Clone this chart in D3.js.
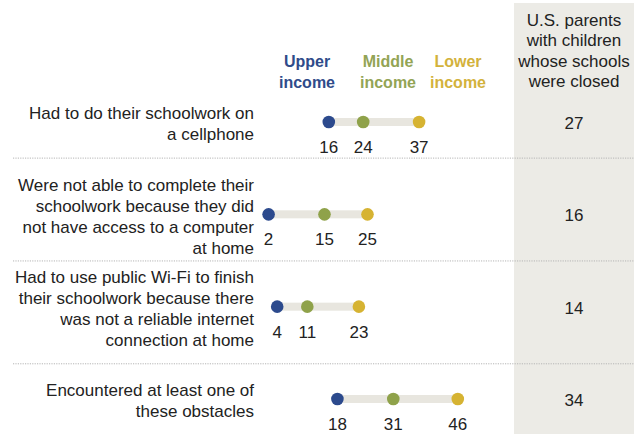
<!DOCTYPE html>
<html>
<head>
<meta charset="utf-8">
<script src="https://cdn.jsdelivr.net/npm/d3@7"></script>
<style>
  html, body { margin: 0; padding: 0; background: #ffffff; }
  svg { display: block; }
</style>
</head>
<body>
<svg id="chart" width="638" height="434"></svg>
<script>
// Obstacles to schoolwork, by family income (%)
const categories = [
  ["Had to do their schoolwork on", "a cellphone"],
  ["Were not able to complete their", "schoolwork because they did", "not have access to a computer", "at home"],
  ["Had to use public Wi-Fi to finish", "their schoolwork because there", "was not a reliable internet", "connection at home"],
  ["Encountered at least one of", "these obstacles"]
];
const upperIncome  = [16, 2, 4, 18];
const middleIncome = [24, 15, 11, 31];
const lowerIncome  = [37, 25, 23, 46];
const allParents   = [27, 16, 14, 34];

const seriesNames = [["Upper", "income"], ["Middle", "income"], ["Lower", "income"]];
const panelTitle = ["U.S. parents", "with children", "whose schools", "were closed"];

const colors = ["#2c4a8d", "#8fa24a", "#d6b332"];
const legendColors = ["#2f4b8a", "#93a455", "#d3b23c"];
const font = "'Liberation Sans', Arial, sans-serif";
const textSize = 17;

const svg = d3.select("#chart");
const W = 638, H = 434;

const x = d3.scaleLinear().domain([0, 50]).range([260, 475]);
const y = d3.scalePoint().domain(d3.range(categories.length)).range([122, 399]);

// shaded column for all parents
const panel = { x0: 514, x1: 634, top: 3 };
svg.append("rect")
  .attr("x", panel.x0).attr("y", panel.top)
  .attr("width", panel.x1 - panel.x0).attr("height", H - panel.top)
  .attr("fill", "#ecebe6");

// row labels, right aligned
const lineH = 21;
const labels = svg.append("g").selectAll("text")
  .data(categories)
  .join("text")
  .attr("text-anchor", "end")
  .attr("font-family", font)
  .attr("font-size", textSize)
  .attr("fill", "#222");
labels.each(function (lines, i) {
  const cy = y(i) + 2 - (lines.length - 1) * lineH / 2;
  d3.select(this).selectAll("tspan")
    .data(lines)
    .join("tspan")
    .attr("x", 254)
    .attr("y", (d, j) => cy + j * lineH)
    .attr("dy", "0.35em")
    .text(d => d);
});

// dotted separators between rows, midway between label blocks
const boxes = labels.nodes().map(n => n.getBBox());
const seps = d3.range(boxes.length - 1).map(i =>
  ((boxes[i].y + boxes[i].height) + boxes[i + 1].y) / 2 - 2);
svg.append("g").selectAll("line")
  .data(seps)
  .join("line")
  .attr("x1", 13).attr("x2", panel.x1)
  .attr("y1", d => d).attr("y2", d => d)
  .attr("stroke", "#b5b5b5")
  .attr("stroke-width", 1)
  .attr("stroke-dasharray", "1.2,1.2");

// legend headers
const legendX = [307, 388, 458];
svg.append("g").selectAll("text")
  .data(seriesNames)
  .join("text")
  .attr("text-anchor", "middle")
  .attr("font-family", font)
  .attr("font-weight", "bold")
  .attr("font-size", 16)
  .attr("fill", (d, i) => legendColors[i])
  .each(function (lines, i) {
    d3.select(this).selectAll("tspan")
      .data(lines)
      .join("tspan")
      .attr("x", legendX[i])
      .attr("y", (d, j) => 61 + j * 21)
      .attr("dy", "0.35em")
      .text(d => d);
  });

// panel header
svg.append("text")
  .attr("text-anchor", "middle")
  .attr("font-family", font)
  .attr("font-size", textSize)
  .attr("fill", "#222")
  .selectAll("tspan")
  .data(panelTitle)
  .join("tspan")
  .attr("x", (panel.x0 + panel.x1) / 2)
  .attr("y", (d, j) => 20 + j * 20.4)
  .attr("dy", "0.35em")
  .text(d => d);

// dumbbell rows
const rows = categories.map((c, i) => ({
  i,
  vals: [upperIncome[i], middleIncome[i], lowerIncome[i]],
  all: allParents[i]
}));

const g = svg.append("g").selectAll("g")
  .data(rows)
  .join("g");

g.append("rect")
  .attr("x", d => x(d3.min(d.vals)))
  .attr("y", d => y(d.i) - 4)
  .attr("width", d => x(d3.max(d.vals)) - x(d3.min(d.vals)))
  .attr("height", 8)
  .attr("fill", "#e8e6df");

g.selectAll("circle")
  .data(d => d.vals.map((v, k) => ({ v, k, row: d.i })))
  .join("circle")
  .attr("cx", d => x(d.v))
  .attr("cy", d => y(d.row))
  .attr("r", 6.3)
  .attr("fill", d => colors[d.k]);

g.selectAll("text.val")
  .data(d => d.vals.map((v, k) => ({ v, k, row: d.i })))
  .join("text")
  .attr("class", "val")
  .attr("x", d => x(d.v))
  .attr("y", d => y(d.row) + 25)
  .attr("dy", "0.35em")
  .attr("text-anchor", "middle")
  .attr("font-family", font)
  .attr("font-size", textSize)
  .attr("fill", "#222")
  .text(d => d.v);

g.append("text")
  .attr("x", (panel.x0 + panel.x1) / 2)
  .attr("y", d => y(d.i) + 1)
  .attr("dy", "0.35em")
  .attr("text-anchor", "middle")
  .attr("font-family", font)
  .attr("font-size", textSize)
  .attr("fill", "#222")
  .text(d => d.all);
</script>
</body>
</html>
